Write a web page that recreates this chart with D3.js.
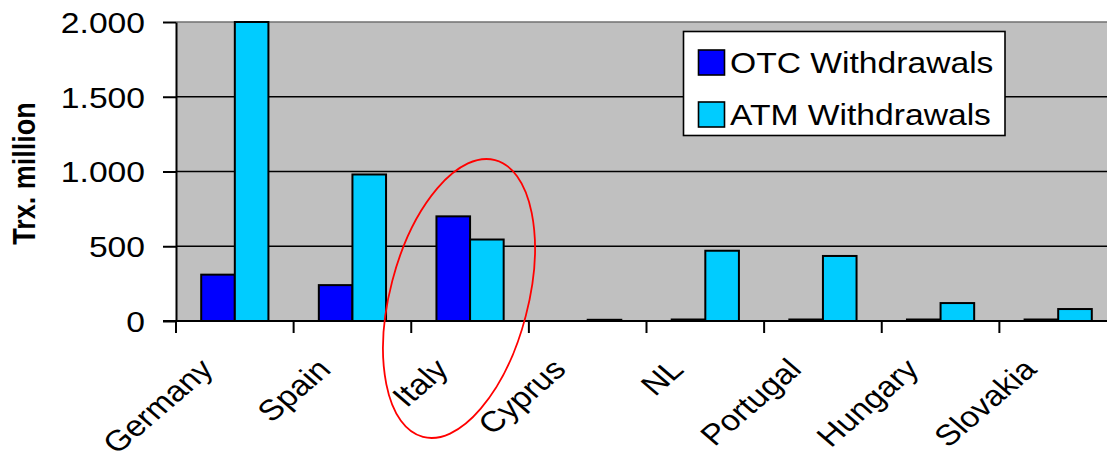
<!DOCTYPE html>
<html>
<head>
<meta charset="utf-8">
<script src="https://cdn.jsdelivr.net/npm/d3@7"></script>
<style>
  html, body { margin: 0; padding: 0; background: #fff; }
  svg { display: block; font-family: "Liberation Sans", Arial, sans-serif; }
</style>
</head>
<body>
<svg id="chart" width="1107" height="462"></svg>
<script>
// Cash withdrawals by country, million transactions
const countries = ["Germany", "Spain", "Italy", "Cyprus", "NL", "Portugal", "Hungary", "Slovakia"];
const seriesNames = ["OTC Withdrawals", "ATM Withdrawals"];
const otcValues = [310, 240, 700, 0, 10, 10, 10, 10];
const atmValues = [2000, 980, 545, 8, 470, 435, 120, 80];
const yTickValues = [0, 500, 1000, 1500, 2000];
const yTickLabels = ["0", "500", "1.000", "1.500", "2.000"];
const seriesColors = ["#0000FF", "#00CCFF"];

const svg = d3.select("#chart");
const stretch = 1.16;              // wide type, as in the printed figure
const plot = { left: 176, top: 22, right: 1117, bottom: 321 };

const rows = countries.map((c, i) => ({ country: c, values: [otcValues[i], atmValues[i]] }));

const x = d3.scaleBand().domain(countries).range([plot.left, plot.right]).paddingInner(0).paddingOuter(0);
const xs = d3.scaleBand().domain(d3.range(seriesNames.length)).range([0, x.bandwidth()])
  .paddingInner(0).paddingOuter(0.75);
const y = d3.scaleLinear().domain([0, 2000]).range([plot.bottom, plot.top]);

// plot background
svg.append("rect")
  .attr("x", plot.left).attr("y", plot.top)
  .attr("width", plot.right - plot.left).attr("height", plot.bottom - plot.top)
  .attr("fill", "#C0C0C0");

// horizontal gridlines
svg.append("g").selectAll("line")
  .data(yTickValues.filter(v => v > 0))
  .join("line")
  .attr("x1", plot.left).attr("x2", plot.right)
  .attr("y1", d => y(d)).attr("y2", d => y(d))
  .attr("stroke", d => d === 2000 ? "#707070" : "#000")
  .attr("stroke-width", 1.6);

// bars
const groups = svg.append("g").selectAll("g")
  .data(rows)
  .join("g")
  .attr("transform", d => `translate(${x(d.country)},0)`);

groups.selectAll("rect")
  .data(d => d.values.map((v, k) => ({ k, v })))
  .join("rect")
  .attr("x", d => xs(d.k))
  .attr("width", xs.bandwidth())
  .attr("y", d => y(d.v))
  .attr("height", d => y(0) - y(d.v))
  .attr("fill", d => seriesColors[d.k])
  .attr("stroke", "#000")
  .attr("stroke-width", 2);

// y axis
const yAxis = svg.append("g")
  .attr("transform", `translate(${plot.left},0)`)
  .call(d3.axisLeft(y).tickValues(yTickValues).tickFormat((d, i) => yTickLabels[i]).tickSize(13).tickSizeOuter(0));
yAxis.select(".domain").attr("stroke", "#000").attr("stroke-width", 2);
yAxis.selectAll(".tick line").attr("stroke", "#000").attr("stroke-width", 2);
yAxis.selectAll(".tick text")
  .attr("x", 0).attr("dy", "0.36em")
  .attr("transform", `translate(-31,0) scale(${stretch},1)`)
  .attr("font-size", 29).attr("fill", "#000")
  .attr("font-family", "'Liberation Sans', Arial, sans-serif");

// x axis
const xAxis = svg.append("g")
  .attr("transform", `translate(0,${plot.bottom})`)
  .call(d3.axisBottom(x).tickValues([]).tickSizeOuter(0));
xAxis.select(".domain").attr("stroke", "#000").attr("stroke-width", 2)
  .attr("d", `M${plot.left - 13},0H${plot.right}`);

// category boundary ticks
svg.append("g").selectAll("line")
  .data(countries)
  .join("line")
  .attr("x1", d => x(d)).attr("x2", d => x(d))
  .attr("y1", plot.bottom).attr("y2", plot.bottom + 12)
  .attr("stroke", "#000").attr("stroke-width", 2);

// rotated category labels
svg.append("g").selectAll("text")
  .data(countries)
  .join("text")
  .attr("transform", d => `translate(${x(d) + x.bandwidth() / 2 - 20},371) scale(${stretch},1) rotate(-45)`)
  .attr("text-anchor", "end")
  .attr("font-size", 29)
  .attr("fill", "#000")
  .text(d => d);

// y axis title
svg.append("text")
  .attr("transform", `translate(35,173.5) scale(${stretch},1) rotate(-90)`)
  .attr("text-anchor", "middle")
  .attr("font-size", 27)
  .attr("font-weight", "bold")
  .attr("fill", "#000")
  .text("Trx. million");

// legend
const legend = svg.append("g");
legend.append("rect")
  .attr("x", 683.5).attr("y", 31.5).attr("width", 321.5).attr("height", 104)
  .attr("fill", "#fff").attr("stroke", "#000").attr("stroke-width", 1.6);
const legendItems = legend.selectAll("g.item")
  .data(seriesNames)
  .join("g")
  .attr("class", "item")
  .attr("transform", (d, i) => `translate(0,${i * 52})`);
legendItems.append("rect")
  .attr("x", 698.5).attr("y", 50).attr("width", 26).attr("height", 25)
  .attr("fill", (d, i) => seriesColors[i])
  .attr("stroke", "#000").attr("stroke-width", 1.6);
legendItems.append("text")
  .attr("transform", `translate(730,73) scale(${stretch},1)`)
  .attr("font-size", 29)
  .attr("fill", "#000")
  .text(d => d);

// highlight around Italy
svg.append("ellipse")
  .attr("cx", 459).attr("cy", 298.5)
  .attr("rx", 69).attr("ry", 143)
  .attr("transform", "rotate(14.6,459,298.5)")
  .attr("fill", "none")
  .attr("stroke", "#FF0000")
  .attr("stroke-width", 1.8);
</script>
</body>
</html>
